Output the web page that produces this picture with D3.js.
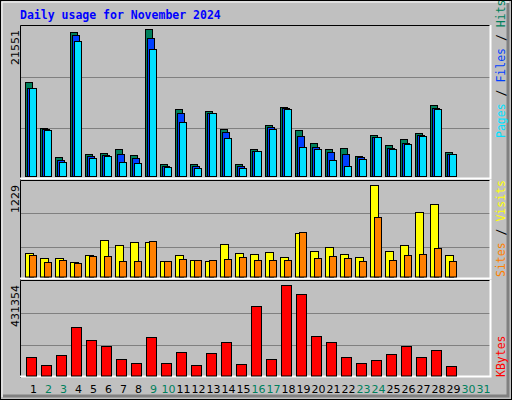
<!DOCTYPE html>
<html>
<head>
<meta charset="utf-8">
<script src="https://cdn.jsdelivr.net/npm/d3@7"></script>
<style>
  body { margin: 0; background: #fff; }
  svg { display: block; }
</style>
</head>
<body>
<div id="chart"></div>
<script>
// values (November 2024, days 1..29 have data)
const days = d3.range(1, 32)
const weekendDays = [2, 3, 9, 10, 16, 17, 23, 24, 30, 31]

const hits = [13799, 7070, 2828, 21113, 3267, 3413, 3998, 3121, 21551, 1804, 9850, 1804, 9557, 6924, 1804, 3998,
  7509, 10142, 6778, 4876, 3998, 4145, 2974, 6046, 4583, 5461, 6339, 10435, 3559]
const files = [12873, 6875, 2389, 20674, 2926, 3121, 3267, 2682, 20235, 1512, 9264, 1512, 9264, 6485, 1512, 3657,
  7216, 9996, 5900, 4291, 3559, 3267, 2828, 5754, 4145, 4876, 6046, 9996, 3267]
const pages = [12921, 6778, 2097, 19797, 2682, 2974, 2097, 1950, 18626, 1365, 7948, 1219, 9264, 5607, 1219, 3706,
  6924, 9850, 4291, 3998, 2389, 1512, 2535, 5754, 3998, 4730, 5900, 9850, 3267]
const visits = [311, 244, 244, 191, 284, 484, 417, 457, 457, 204, 284, 217, 204, 430, 311, 297,
  324, 257, 577, 337, 390, 297, 257, 1229, 337, 417, 856, 963, 284]
const sites = [284, 191, 217, 177, 271, 271, 204, 204, 470, 204, 231, 217, 217, 231, 257, 217,
  217, 217, 590, 244, 271, 244, 204, 790, 217, 284, 297, 377, 204]
const kbytes = [86587, 48803, 96032, 228274, 166876, 138538, 77141, 58249, 181045, 58249, 110201, 48803, 105478,
  157430, 53526, 327454, 77141, 431354, 384129, 185767, 157430, 86587, 58249, 72418, 100755, 138538, 86587,
  119647, 44080]

const W = 512, H = 400
const left = 20, right = 491
const mono = "'DejaVu Sans Mono', monospace"

const svg = d3.select('#chart').append('svg')
  .attr('width', W).attr('height', H)

// background + bevel
svg.append('rect').attr('x', 0.5).attr('y', 0.5).attr('width', W - 1).attr('height', H - 1)
  .attr('fill', '#c0c0c0').attr('stroke', '#000')
svg.append('path').attr('d', `M2,${H - 3}V2H${W - 3}`).attr('stroke', '#fff').attr('fill', 'none')
svg.append('path').attr('d', `M3,${H - 4}H${W - 4}V3`).attr('stroke', '#808080').attr('stroke-width', 3).attr('fill', 'none')

svg.append('text').attr('x', 20).attr('y', 19)
  .attr('font-family', mono).attr('font-weight', 'bold').attr('font-size', 11.5)
  .attr('fill', '#0000ff').text('Daily usage for November 2024')

const x = d3.scaleBand().domain(days).range([left, left + 15 * 31])

const panels = [
  { top: 25, bottom: 176, peak: 29, max: 21551, label: '21551' },
  { top: 180, bottom: 276.5, peak: 184.5, max: 1229, label: '1229' },
  { top: 280, bottom: 375.5, peak: 284.5, max: 431354, label: '431354' }
]
panels.forEach(p => {
  p.y = d3.scaleLinear().domain([0, p.max]).range([p.bottom, p.peak])
})

// panel frames and grid
panels.forEach((p, i) => {
  const bot = i < 2 ? panels[i + 1].top : 378
  const g = svg.append('g')
  const h = bot - p.top
  ;[1, 2].forEach(k => {
    const gy = Math.round(p.top + h * k / 3) + 0.5
    g.append('line').attr('x1', left).attr('x2', right).attr('y1', gy).attr('y2', gy)
      .attr('stroke', '#808080')
  })
  g.append('path').attr('d', `M${left + 0.5},${bot}V${p.top + 0.5}H${right}`)
    .attr('stroke', '#000').attr('fill', 'none')
  g.append('path').attr('d', `M${left},${bot - 1.5}H${right - 0.5}V${p.top}`)
    .attr('stroke', '#fff').attr('stroke-width', 2).attr('fill', 'none')
  g.append('text')
    .attr('transform', `translate(19,${p.top + 5}) rotate(-90)`)
    .attr('text-anchor', 'end').attr('font-family', "'DejaVu Sans', sans-serif")
    .attr('font-size', 11).attr('fill', '#000').text(p.label)
})

function bars(data, panel, offset, width, color) {
  svg.append('g').selectAll('rect')
    .data(data)
    .join('rect')
    .attr('x', (d, i) => x(i + 1) + offset + 0.5)
    .attr('y', d => Math.round(panel.y(d)) + 0.5)
    .attr('width', width)
    .attr('height', d => panel.bottom - Math.round(panel.y(d)))
    .attr('fill', color)
    .attr('stroke', '#000')
}

bars(hits, panels[0], 5, 7, '#00805c')
bars(files, panels[0], 7, 7, '#0040ff')
bars(pages, panels[0], 9, 7, '#00e0ff')
bars(visits, panels[1], 5, 8, '#ffff00')
bars(sites, panels[1], 9, 7, '#ff8000')
bars(kbytes, panels[2], 6, 10, '#ff0000')

// right side legends
function legend(parts, yBottom) {
  const t = svg.append('text')
    .attr('transform', `translate(505,${yBottom}) rotate(-90)`)
    .attr('font-family', mono).attr('font-size', 11.5)
  parts.forEach(([s, c]) => t.append('tspan').attr('fill', c).text(s))
}
legend([['Pages', '#00e0ff'], [' / ', '#000'], ['Files', '#0040ff'], [' / ', '#000'], ['Hits', '#00805c']], 138)
legend([['Sites', '#ff8000'], [' / ', '#000'], ['Visits', '#ffff00']], 277)
legend([['KBytes', '#ff0000']], 377)

// day labels
svg.append('g').selectAll('text')
  .data(days)
  .join('text')
  .attr('x', d => x(d) + x.bandwidth() / 2 + 6)
  .attr('y', 393)
  .attr('text-anchor', 'middle')
  .attr('font-family', "'DejaVu Sans', sans-serif")
  .attr('font-size', 11)
  .attr('fill', d => weekendDays.includes(d) ? '#00805c' : '#000')
  .text(d => d)
</script>
</body>
</html>
